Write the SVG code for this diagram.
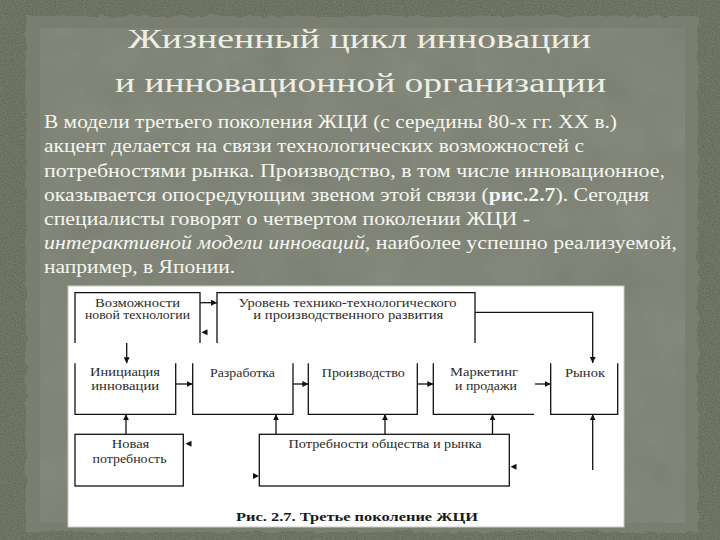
<svg xmlns="http://www.w3.org/2000/svg" width="720" height="540" viewBox="0 0 720 540">
  <defs>
    <filter id="tex" x="0" y="0" width="100%" height="100%">
      <feTurbulence type="fractalNoise" baseFrequency="0.9" numOctaves="2" seed="3" result="n"/>
      <feColorMatrix in="n" type="matrix" values="0 0 0 0 0.30  0 0 0 0 0.32  0 0 0 0 0.25  0 0 0 0.6 0" result="c"/>
      <feComposite in="c" in2="SourceGraphic" operator="over"/>
    </filter>
    <filter id="rough" x="-5%" y="-5%" width="110%" height="110%">
      <feTurbulence type="fractalNoise" baseFrequency="0.08" numOctaves="3" seed="7" result="t"/>
      <feDisplacementMap in="SourceGraphic" in2="t" scale="7" xChannelSelector="R" yChannelSelector="G"/>
    </filter>
    <filter id="paneltex" x="0" y="0" width="100%" height="100%">
      <feTurbulence type="fractalNoise" baseFrequency="0.02" numOctaves="3" seed="11" result="n"/>
      <feColorMatrix in="n" type="matrix" values="0 0 0 0 0.5  0 0 0 0 0.52  0 0 0 0 0.46  0 0 0 0.25 0" result="c"/>
      <feComposite in="c" in2="SourceGraphic" operator="atop"/>
    </filter>
    <marker id="ah" viewBox="0 0 10 10" refX="10" refY="5" markerWidth="6" markerHeight="6" markerUnits="userSpaceOnUse" orient="auto">
      <path d="M0,0 L10,5 L0,10 z" fill="#111"/>
    </marker>
    <style>
      .title { font-size: 28px; fill: #eeeee6; text-anchor: middle; }
      .body { font-size: 19.5px; fill: #f6f6f0; }
      .d { font-size: 12.5px; fill: #2b2b2b; text-anchor: middle; }
      .cap { font-size: 13px; font-weight: bold; fill: #1a1a1a; text-anchor: middle; }
      .ln { stroke: #111; stroke-width: 1.3; fill: none; }
      .arr { stroke: #111; stroke-width: 1.3; fill: none; marker-end: url(#ah); }
      .head { fill: #111; }
    </style>
  </defs>

  <!-- background -->
  <rect x="0" y="0" width="720" height="540" fill="#555b4a" filter="url(#tex)"/>
  <g filter="url(#rough)">
    <rect x="26" y="16" width="672" height="516" fill="#797e70"/>
  </g>
  <rect x="40" y="28" width="645" height="495" fill="#7c8173" opacity="0.6" filter="url(#paneltex)"/>

  <g font-family="'Liberation Serif', 'DejaVu Serif', 'Times New Roman', serif">
  <!-- title -->
  <g id="title">
    <text class="title" x="359.5" y="48" textLength="463" lengthAdjust="spacingAndGlyphs">Жизненный цикл инновации</text>
    <text class="title" x="360.5" y="92" textLength="491" lengthAdjust="spacingAndGlyphs">и инновационной организации</text>
  </g>

  <!-- body text -->
  <g id="body">
    <text class="body" x="44" y="128" textLength="573" lengthAdjust="spacingAndGlyphs">В модели третьего поколения ЖЦИ  (с середины 80-х гг. ХХ в.)</text>
    <text class="body" x="44" y="152" textLength="540" lengthAdjust="spacingAndGlyphs">акцент делается на связи технологических возможностей с</text>
    <text class="body" x="44" y="176.5" textLength="621" lengthAdjust="spacingAndGlyphs">потребностями рынка. Производство, в том числе инновационное,</text>
    <text class="body" x="44" y="200.5" textLength="605" lengthAdjust="spacingAndGlyphs">оказывается опосредующим звеном этой связи (<tspan font-weight="bold">рис.2.7</tspan>). Сегодня</text>
    <text class="body" x="44" y="224.5" textLength="486" lengthAdjust="spacingAndGlyphs">специалисты говорят о четвертом поколении ЖЦИ -</text>
    <text class="body" x="44" y="248.5" textLength="633" lengthAdjust="spacingAndGlyphs"><tspan font-style="italic">интерактивной модели инноваций</tspan>, наиболее успешно реализуемой,</text>
    <text class="body" x="44" y="273" textLength="191" lengthAdjust="spacingAndGlyphs">например, в Японии.</text>
  </g>

  <!-- figure -->
  <rect x="68" y="286" width="556" height="241" fill="#ffffff" stroke="#c9cbc2" stroke-width="1"/>

  <g id="n-vozm">
    <path class="ln" d="M75,343 V292.7 H200 V343"/>
    <text class="d" x="137.5" y="306.7" textLength="85" lengthAdjust="spacingAndGlyphs">Возможности</text>
    <text class="d" x="137.5" y="319.3" textLength="105" lengthAdjust="spacingAndGlyphs">новой технологии</text>
  </g>
  <g id="n-uroven">
    <path class="ln" d="M217,343 V292.7 H475 V343"/>
    <text class="d" x="347.5" y="306.7" textLength="218" lengthAdjust="spacingAndGlyphs">Уровень технико-технологического</text>
    <text class="d" x="348.3" y="319.3" textLength="190" lengthAdjust="spacingAndGlyphs">и производственного развития</text>
  </g>
  <g id="n-init">
    <path class="ln" d="M75,363.3 V414.3 H175.7 V363.3"/>
    <text class="d" x="125" y="375.7" textLength="70" lengthAdjust="spacingAndGlyphs">Инициация</text>
    <text class="d" x="125.2" y="390" textLength="68" lengthAdjust="spacingAndGlyphs">инновации</text>
  </g>
  <g id="n-razr">
    <path class="ln" d="M192.7,363.3 V414.3 H293 V363.3"/>
    <text class="d" x="242.5" y="377.3" textLength="65" lengthAdjust="spacingAndGlyphs">Разработка</text>
  </g>
  <g id="n-proizv">
    <path class="ln" d="M308.3,363.3 V414.3 H417.3 V363.3"/>
    <text class="d" x="363.3" y="377.3" textLength="83" lengthAdjust="spacingAndGlyphs">Производство</text>
  </g>
  <g id="n-market">
    <path class="ln" d="M433.3,363.3 V414.3 H534"/>
    <text class="d" x="484" y="375.7" textLength="68" lengthAdjust="spacingAndGlyphs">Маркетинг</text>
    <text class="d" x="486" y="390" textLength="62" lengthAdjust="spacingAndGlyphs">и продажи</text>
  </g>
  <g id="n-rynok">
    <path class="ln" d="M550.7,363.3 V414.3 H617.7 V363.3"/>
    <text class="d" x="585" y="376.7" textLength="40" lengthAdjust="spacingAndGlyphs">Рынок</text>
  </g>
  <g id="n-novaya">
    <rect class="ln" x="75" y="434.3" width="108.3" height="51.7"/>
    <text class="d" x="130.5" y="447.7" textLength="37.6" lengthAdjust="spacingAndGlyphs">Новая</text>
    <text class="d" x="129.5" y="462.7" textLength="74" lengthAdjust="spacingAndGlyphs">потребность</text>
  </g>
  <g id="n-potreb">
    <rect class="ln" x="259.3" y="434.3" width="250" height="51.7"/>
    <text class="d" x="385" y="447.7" textLength="193" lengthAdjust="spacingAndGlyphs">Потребности общества и рынка</text>
  </g>

  <g id="connectors">
    <line class="arr" x1="200" y1="302.7" x2="217" y2="302.7"/>
    <path class="head" d="M201.5,332.3 L207.5,329.3 L207.5,335.3 z"/>
    <path class="arr" d="M475,312.3 H592.7 V363"/>
    <line class="arr" x1="126.7" y1="343" x2="126.7" y2="363.3"/>
    <line class="arr" x1="175.7" y1="384" x2="192.7" y2="384"/>
    <line class="arr" x1="293" y1="384" x2="308.3" y2="384"/>
    <line class="arr" x1="417.3" y1="384" x2="433.3" y2="384"/>
    <line class="arr" x1="535" y1="384" x2="550.7" y2="384"/>
    <line class="arr" x1="126" y1="434.3" x2="126" y2="414.3"/>
    <line class="arr" x1="276" y1="434.3" x2="276" y2="414.3"/>
    <line class="arr" x1="385" y1="434.3" x2="385" y2="414.3"/>
    <line class="arr" x1="492.5" y1="434.3" x2="492.5" y2="414.3"/>
    <line class="arr" x1="592.7" y1="470" x2="592.7" y2="414.3"/>
    <path class="head" d="M185.5,443.7 L191.5,440.7 L191.5,446.7 z"/>
    <path class="head" d="M259,476 L253,473 L253,479 z"/>
    <path class="head" d="M510.5,466.7 L516.5,463.7 L516.5,469.7 z"/>
  </g>

  <text class="cap" x="357" y="520.7" textLength="242" lengthAdjust="spacingAndGlyphs">Рис. 2.7. Третье поколение  ЖЦИ</text>
  </g>
</svg>
